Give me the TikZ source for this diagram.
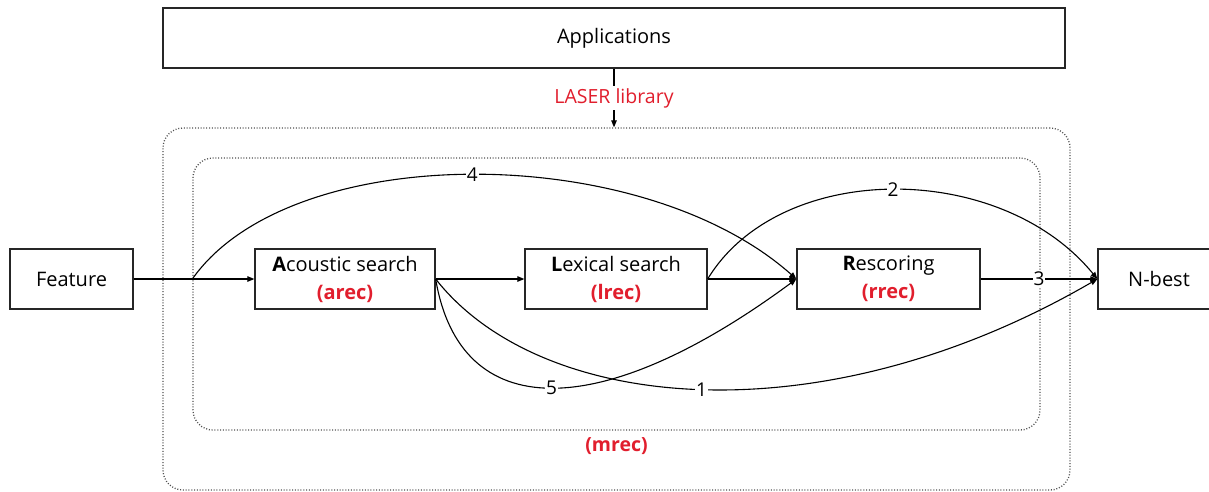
\documentclass[tikz,border=0pt]{standalone}
\usepackage{fontspec}
\setmainfont{Open Sans}
\usetikzlibrary{arrows.meta}
\definecolor{labred}{RGB}{225,30,45}
\definecolor{dotgray}{RGB}{80,80,80}
\begin{document}
\begin{tikzpicture}[x=1pt,y=-1pt,
  box/.style={draw=black!85, line width=1.3pt, minimum height=60pt, inner sep=0pt,
              font=\fontsize{20}{28}\selectfont, align=center},
  frame/.style={draw=dotgray, line width=1.3pt, dash pattern=on 1pt off 1.8pt,
                rounded corners=20pt, inner sep=0pt},
  flow/.style={line width=1.1pt, -{Triangle[length=7pt,width=5.5pt]}},
  num/.style={fill=white, inner sep=1pt, font=\fontsize{19}{21}\selectfont},
  tag/.style={text=labred, font=\fontsize{19.5}{21}\selectfont}
]
\useasboundingbox (0,0) rectangle (1209,491);

% library frames
\node[frame, minimum width=907pt, minimum height=362pt] (lib) at (616.5,309) {};
\node[frame, minimum width=847pt, minimum height=272pt] (core) at (616.5,294) {};
\node[tag, font=\fontsize{19.5}{21}\selectfont\bfseries] (mrec) at (616.5,446) {(mrec)};

% application layer
\node[box, minimum width=902pt] (app) at (614,38) {Applications};
\draw[flow] (app.south) -- node[tag, fill=white, inner sep=2pt] (laser) {LASER library} (app.south |- lib.north);

% processing stages
\node[box, minimum width=123pt] (feat) at (71.5,279) {Feature};
\node[box, minimum width=180pt] (ac) at (345,279) {\textbf{A}coustic search\\{\color{labred}\bfseries (arec)}};
\node[box, minimum width=182pt] (lex) at (616,279) {\textbf{L}exical search\\{\color{labred}\bfseries (lrec)}};
\node[box, minimum width=183pt] (res) at (888.5,279) {\textbf{R}escoring\\{\color{labred}\bfseries (rrec)}};
\node[box, minimum width=122pt] (nb) at (1159,279) {N-best};

\coordinate (split) at (core.west |- feat.east);

% connections
\draw[flow] (feat.east) -- (ac.west);
\draw[flow] (ac.east) -- (lex.west);
\draw[flow] (lex.east) -- (res.west);
\draw[flow] (res.east) -- node[num] {3} (nb.west);
\draw[flow] (split) .. controls (290,140) and (640,140) .. node[num] {4} (res.west);
\draw[flow] (lex.east) .. controls (780,160) and (1000,160) .. node[num] {2} (nb.west);
\draw[flow] (ac.east) .. controls (460,424) and (600,424) .. node[num] {5} (res.west);
\draw[flow] (ac.east) .. controls (540,412) and (820,440) .. node[num] {1} (nb.west);
\end{tikzpicture}
\end{document}
